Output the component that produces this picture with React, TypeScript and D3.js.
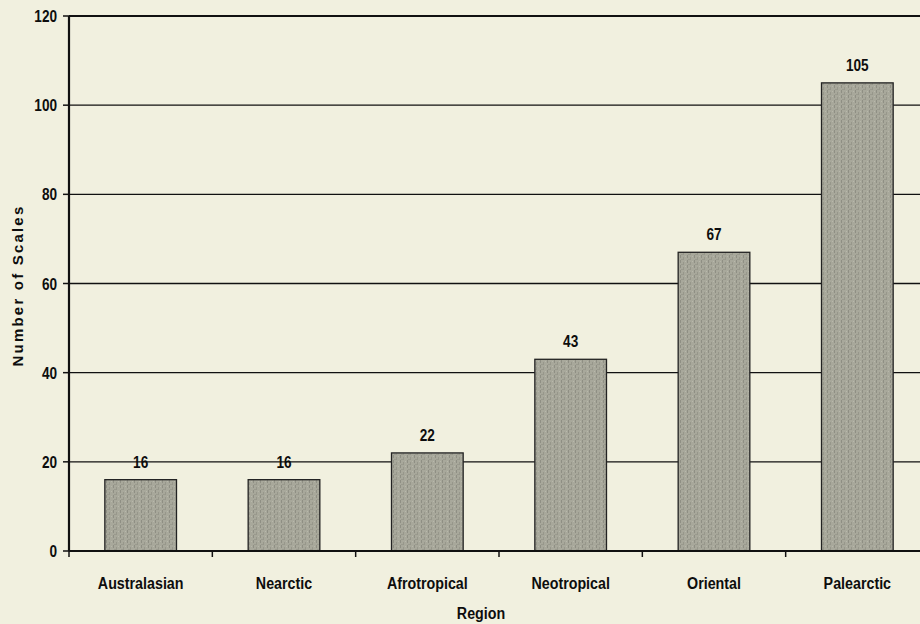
import React from "react";
import * as d3 from "d3";

// data
const regions = ["Australasian", "Nearctic", "Afrotropical", "Neotropical", "Oriental", "Palearctic"];
const scaleCounts = [16, 16, 22, 43, 67, 105];
const yTicks = [0, 20, 40, 60, 80, 100, 120];

const width = 920;
const height = 624;
const margin = { left: 69, top: 16, right: -9, bottom: 73 };
const font = "'Liberation Sans', Arial, sans-serif";

// the original uses a narrow bold face; squeeze a regular one horizontally
function NText({ x, y, anchor = "middle", size = 17, squeeze = 0.8, children }: any) {
  return (
    <text
      transform={`translate(${x},${y}) scale(${squeeze},1)`}
      textAnchor={anchor}
      fontFamily={font}
      fontWeight="bold"
      fontSize={size}
      fill="#0d0d0d"
    >
      {children}
    </text>
  );
}

export default function App() {
  const x = d3
    .scaleBand<string>()
    .domain(regions)
    .range([margin.left, width - margin.right])
    .paddingInner(0.5)
    .paddingOuter(0.25);
  const y = d3
    .scaleLinear()
    .domain([0, 120])
    .range([height - margin.bottom, margin.top]);

  const step = x.step();
  const boundaries = d3.range(regions.length + 1).map((i) => margin.left + i * step);
  const x0 = margin.left;
  const x1 = width - margin.right;

  return (
    <svg
      width={width}
      height={height}
      style={{ position: "absolute", left: 0, top: 0, background: "#f1f0df" }}
    >
      <defs>
        {/* printed-halftone look of the bars */}
        <pattern id="grain" width={7} height={5} patternUnits="userSpaceOnUse">
          <rect width={7} height={5} fill="#a8a89b" />
          <rect x={1} y={0} width={1} height={3} fill="#8f8f84" />
          <rect x={4} y={2} width={1} height={3} fill="#97978b" />
          <rect x={6} y={1} width={1} height={1} fill="#b8b8ab" />
          <rect x={2} y={4} width={2} height={1} fill="#9a9a8e" />
        </pattern>
      </defs>
      <rect width={width} height={height} fill="#f1f0df" />
      {/* grid lines */}
      {yTicks.slice(1).map((t) => (
        <line
          key={t}
          x1={x0}
          x2={x1}
          y1={y(t)}
          y2={y(t)}
          stroke="#111"
          strokeWidth={t === 120 ? 2.2 : 1.3}
        />
      ))}
      {/* value labels */}
      {regions.map((r, i) => (
        <NText key={"v" + r} x={x(r)! + x.bandwidth() / 2} y={y(scaleCounts[i]) - 12}>
          {scaleCounts[i]}
        </NText>
      ))}
      {/* bars */}
      {regions.map((r, i) => (
        <rect
          key={r}
          x={x(r)}
          y={y(scaleCounts[i])}
          width={x.bandwidth()}
          height={y(0) - y(scaleCounts[i])}
          fill="url(#grain)"
          stroke="#222"
          strokeWidth={1.3}
        />
      ))}
      {/* axes */}
      <line x1={x0} x2={x1} y1={y(0)} y2={y(0)} stroke="#111" strokeWidth={2} />
      <line x1={x0} x2={x0} y1={y(120)} y2={y(0)} stroke="#111" strokeWidth={2.2} />
      {yTicks.map((t) => (
        <g key={"yt" + t}>
          <line x1={x0 - 6} x2={x0} y1={y(t)} y2={y(t)} stroke="#111" strokeWidth={1.5} />
          <NText x={x0 - 12} y={y(t) + 6} anchor="end">
            {t}
          </NText>
        </g>
      ))}
      {boundaries.map((bx, i) => (
        <line key={"xt" + i} x1={bx} x2={bx} y1={y(0)} y2={y(0) + 6} stroke="#111" strokeWidth={1.5} />
      ))}
      {regions.map((r) => (
        <NText key={"xl" + r} x={x(r)! + x.bandwidth() / 2} y={y(0) + 38} squeeze={0.84}>
          {r}
        </NText>
      ))}
      <NText x={481} y={619} squeeze={0.84}>
        Region
      </NText>
      <text
        transform={`translate(23,${(y(0) + y(120)) / 2 + 2}) rotate(-90)`}
        textAnchor="middle"
        fontFamily={font}
        fontWeight="bold"
        fontSize={15}
        letterSpacing={2.2}
        fill="#0d0d0d"
      >
        Number of Scales
      </text>
    </svg>
  );
}
